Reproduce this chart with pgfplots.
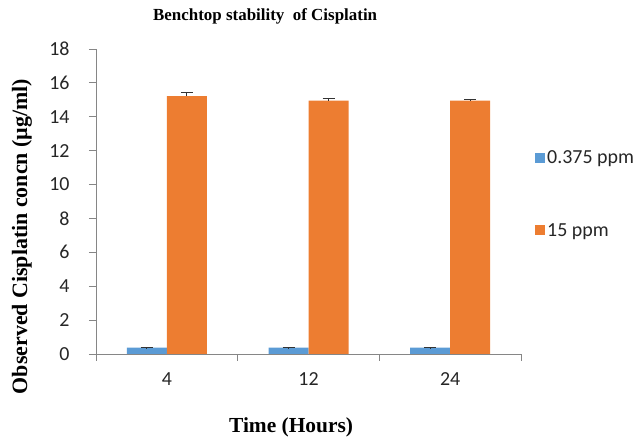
\documentclass[border=0pt]{standalone}
\usepackage{pgfplots}
\pgfplotsset{compat=1.18}
\usepackage{fontspec}
\setmainfont{Liberation Serif}
\newfontfamily\carlito{Carlito}
\definecolor{exblue}{HTML}{5B9BD5}
\definecolor{exorange}{HTML}{ED7D31}
\definecolor{axgray}{HTML}{868686}
\begin{document}
\begin{tikzpicture}[x=1bp,y=1bp]
\useasboundingbox (-96,-83) rectangle (546,354);
\begin{axis}[
  at={(0,0)}, anchor=south west,
  scale only axis, width=425bp, height=305bp,
  ybar, bar width=40bp,
  xmin=-0.5, xmax=2.5, ymin=0, ymax=18,
  xtick={0,1,2}, xticklabels={4,12,24},
  minor xtick={-0.5,0.5,1.5,2.5},
  ytick={0,2,...,18},
  axis x line*=bottom, axis y line*=left,
  axis line style={draw=axgray, line width=0.8pt},
  tick align=outside,
  major tick length=7bp, minor tick length=7bp,
  tick style={draw=axgray, line width=0.8pt},
  major x tick style={draw=none},
  /pgf/number format/assume math mode=true,
  ticklabel style={font=\carlito\fontsize{20}{23}\selectfont, text=black!85},
  yticklabel style={xshift=-16bp},
  xticklabel style={yshift=-8bp},
  title={Benchtop stability\ \ of Cisplatin},
  title style={font=\bfseries\fontsize{17}{20}\selectfont, at={(axis description cs:0.398,1.089)}, anchor=center},
  xlabel={Time (Hours)},
  xlabel style={font=\bfseries\fontsize{21.5}{24}\selectfont, at={(axis description cs:0.459,-0.239)}, anchor=center},
  ylabel={Observed Cisplatin concn (µg/ml)},
  ylabel style={font=\bfseries\fontsize{22}{25}\selectfont, at={(axis description cs:-0.174,0.385)}, anchor=center},
  legend style={at={(axis description cs:1.026,0.68)}, anchor=north west, draw=none, fill=none,
    font=\carlito\fontsize{20}{24}\selectfont, row sep=54bp, text=black!85},
  legend cell align=left,
  legend image code/.code={\fill[#1,draw=none] (0bp,-5bp) rectangle (10bp,5bp);},
  error bars/y dir=plus, error bars/y explicit,
  error bars/error bar style={draw=black!80, line width=0.8pt},
  error bars/error mark options={rotate=90, mark size=6bp, draw=black!80, line width=0.8pt},
]
\addplot[fill=exblue, draw=none, bar shift=-20bp] coordinates {
  (0,0.375) +- (0,0.008)
  (1,0.372) +- (0,0.008)
  (2,0.372) +- (0,0.008)
};
\addplot[fill=exorange, draw=none, bar shift=20bp] coordinates {
  (0,15.22) +- (0,0.20)
  (1,14.95) +- (0,0.12)
  (2,14.95) +- (0,0.06)
};
\legend{0.375 ppm, 15 ppm}
\end{axis}
\end{tikzpicture}
\end{document}
